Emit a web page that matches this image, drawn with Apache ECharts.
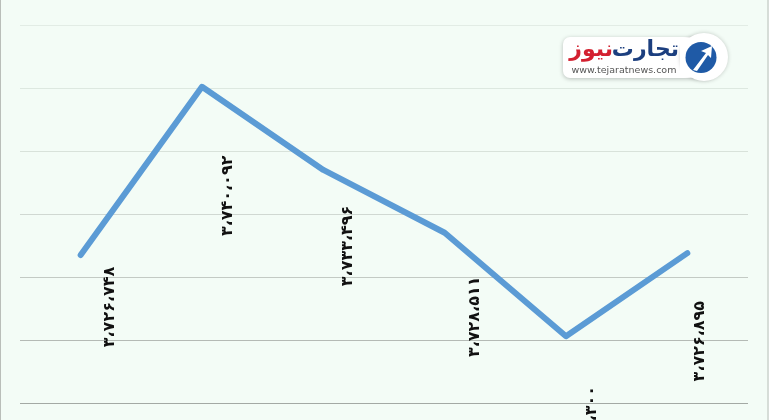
<!DOCTYPE html>
<html><head><meta charset="utf-8">
<script src="https://cdn.jsdelivr.net/npm/echarts@6/dist/echarts.min.js"></script>
<style>html,body{margin:0;padding:0;background:#f3fcf6;}#c{width:769px;height:420px;}</style>
</head><body><div id="c"></div>
<script>
const categories = ['1', '2', '3', '4', '5', '6'];
const values = [3726748, 3740092, 3733496, 3728511, 3720300, 3726895];
const yMin = 3715000, yMax = 3745000, yStep = 5000;
// desired on-screen label centre shift from each point [dx, dy]
const labelShift = [[29, 52], [26, 109], [25, 76], [30, 84], [26, 90], [13, 88]];

const faDigits = '۰۱۲۳۴۵۶۷۸۹';
function toFa(n) {
  return String(n).replace(/\B(?=(\d{3})+(?!\d))/g, '،').replace(/\d/g, d => faDigits[+d]);
}

const chart = echarts.init(document.getElementById('c'), null, {renderer: 'canvas'});
chart.setOption({
  backgroundColor: '#f3fcf6',
  animation: false,
  grid: {left: 20, right: 21, top: 25, bottom: 17, containLabel: false},
  xAxis: {
    type: 'category', data: categories, boundaryGap: true,
    axisLine: {show: false}, axisTick: {show: false}, axisLabel: {show: false}, splitLine: {show: false}
  },
  yAxis: {
    type: 'value', min: yMin, max: yMax, interval: yStep,
    axisLine: {show: false}, axisTick: {show: false}, axisLabel: {show: false},
    splitLine: {show: true, lineStyle: {width: 1, color: ['#a3a9a4', '#b4bab5', '#c3cac4', '#d0d8d2', '#d8e2da', '#dde8e0', '#e2ece5']}}
  },
  series: [{
    type: 'line',
    // offset is applied in the rotated frame (90° CCW), so [dx,dy] on screen -> [-dy, dx]
    data: values.map((v, i) => ({value: v, label: {offset: [-labelShift[i][1], labelShift[i][0]]}})),
    symbol: 'circle', symbolSize: 1, showSymbol: true,
    itemStyle: {color: 'rgba(0,0,0,0)', borderWidth: 0},
    lineStyle: {color: '#5b9bd5', width: 6, cap: 'round', join: 'round'},
    label: {
      show: true, position: 'inside', rotate: 90, align: 'center', verticalAlign: 'middle',
      fontFamily: 'DejaVu Sans', fontSize: 16, fontWeight: 'bold', color: '#111',
      formatter: p => toFa(p.value)
    }
  }],
  graphic: [
    {type: 'rect', shape: {x: 0.5, y: -2, width: 767.5, height: 425}, style: {fill: 'none', stroke: '#b9beb9', lineWidth: 1}, silent: true},
    {type: 'rect', shape: {x: 563, y: 37, width: 150, height: 41, r: 7}, style: {fill: '#fff', shadowBlur: 4, shadowColor: 'rgba(0,0,0,0.25)', shadowOffsetY: 1}},
    {type: 'circle', shape: {cx: 704, cy: 57, r: 24}, style: {fill: '#fff', shadowBlur: 4, shadowColor: 'rgba(0,0,0,0.2)'}},
    {type: 'rect', shape: {x: 680, y: 38, width: 25, height: 39}, style: {fill: '#fff'}},
    {type: 'circle', shape: {cx: 701, cy: 57.5, r: 15.5}, style: {fill: '#1f5aa6'}},
    {type: 'polygon', shape: {points: [[693, 70], [706, 53], [701, 51], [712, 46], [711, 58], [708, 55], [697, 71]]}, style: {fill: '#fff'}},
    {type: 'text', style: {text: 'تجارت', x: 679, y: 50, align: 'right', verticalAlign: 'middle', font: 'bold 22px "DejaVu Sans"', fill: '#1c3f7f'}},
    {type: 'text', style: {text: 'نیوز', x: 613, y: 50, align: 'right', verticalAlign: 'middle', font: 'bold 22px "DejaVu Sans"', fill: '#d32030'}},
    {type: 'text', style: {text: 'www.tejaratnews.com', x: 624, y: 71, align: 'center', verticalAlign: 'middle', font: '9.5px "DejaVu Sans"', fill: '#555'}}
  ]
});
</script></body></html>
